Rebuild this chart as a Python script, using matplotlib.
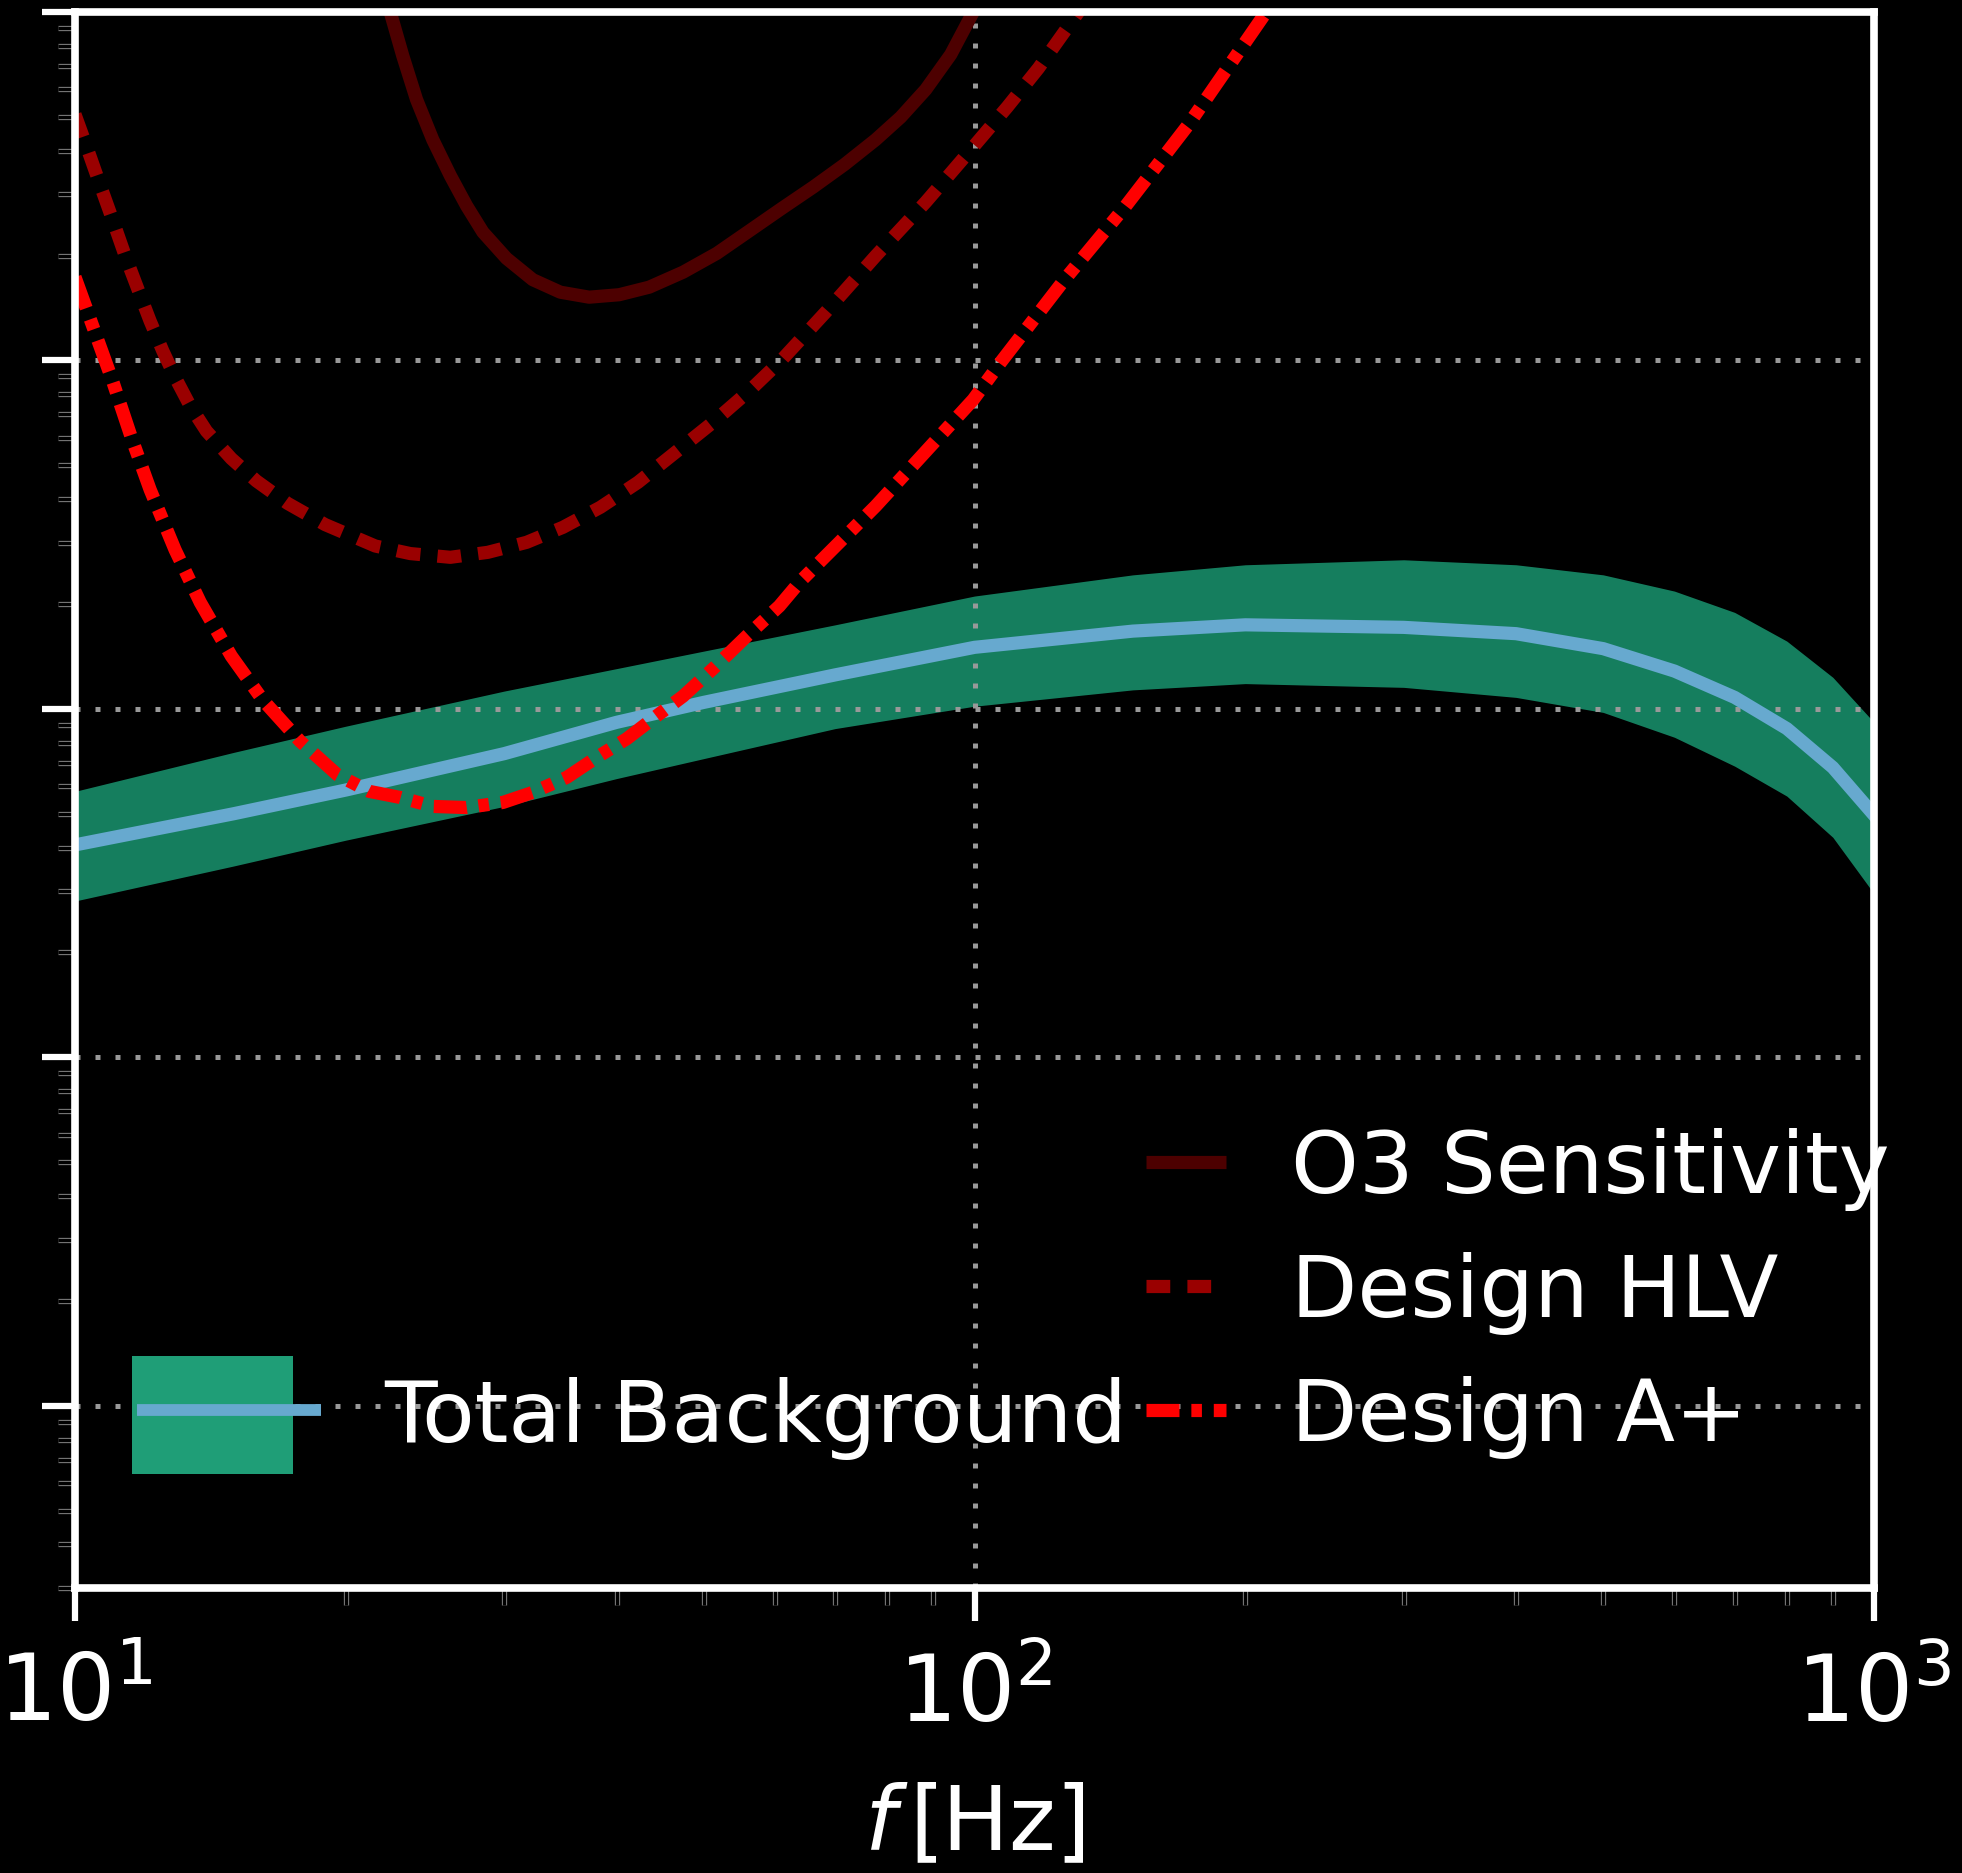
import numpy as np
import matplotlib
matplotlib.use('Agg')
import matplotlib.pyplot as plt
import matplotlib.patches as mpatches
import matplotlib.patheffects as pe
from matplotlib.lines import Line2D
from matplotlib.legend_handler import HandlerPatch, HandlerTuple

# Total background (median + band)
bg_freq = [10, 15, 20, 30, 40, 50, 70, 100, 150, 200, 300, 400, 500, 600, 700, 800, 900, 1000]
bg_median = [4.07e-10, 5.00e-10, 5.85e-10, 7.44e-10, 9.15e-10, 1.044e-9, 1.252e-9, 1.502e-9, 1.672e-9,
             1.743e-9, 1.714e-9, 1.644e-9, 1.489e-9, 1.284e-9, 1.079e-9, 8.78e-10, 6.79e-10, 4.96e-10]
bg_upper = [5.80e-10, 7.50e-10, 8.92e-10, 1.125e-9, 1.305e-9, 1.465e-9, 1.743e-9, 2.108e-9, 2.425e-9,
            2.592e-9, 2.679e-9, 2.592e-9, 2.425e-9, 2.178e-9, 1.892e-9, 1.565e-9, 1.232e-9, 9.15e-10]
bg_lower = [2.81e-10, 3.54e-10, 4.20e-10, 5.25e-10, 6.31e-10, 7.20e-10, 8.78e-10, 1.018e-9, 1.134e-9,
            1.182e-9, 1.153e-9, 1.079e-9, 9.77e-10, 8.29e-10, 6.85e-10, 5.62e-10, 4.28e-10, 2.95e-10]

# O3 sensitivity curve
o3_freq = [22.13, 22.41, 23.14, 23.97, 24.99, 26.14, 27.25, 28.41, 30.18, 32.28, 34.64, 37.29, 40.27,
           43.49, 47.43, 51.70, 56.19, 61.07, 66.17, 71.69, 77.65, 82.78, 88.26, 94.1, 99.68, 103.6]
o3_omega = [1.18e-7, 1.0e-7, 7.49e-8, 5.61e-8, 4.30e-8, 3.39e-8, 2.778e-8, 2.335e-8, 1.963e-8, 1.705e-8,
            1.570e-8, 1.519e-8, 1.544e-8, 1.623e-8, 1.792e-8, 2.029e-8, 2.354e-8, 2.732e-8, 3.144e-8,
            3.65e-8, 4.30e-8, 4.99e-8, 5.99e-8, 7.55e-8, 1.0e-7, 1.18e-7]

# Design HLV curve
hlv_freq = [10.0, 10.33, 10.66, 11.01, 11.36, 11.74, 12.12, 12.52, 12.92, 13.43, 14.0, 14.92, 15.91,
            17.23, 18.97, 21.57, 23.59, 26.14, 28.77, 31.77, 34.87, 38.38, 42.26, 46.52, 51.22, 56.36,
            61.07, 68.32, 77.65, 88.26, 99.68, 108.7, 117.8, 130.5, 136.0]
hlv_omega = [5.08e-8, 4.03e-8, 3.20e-8, 2.536e-8, 2.012e-8, 1.609e-8, 1.298e-8, 1.065e-8, 8.95e-9,
             7.40e-9, 6.27e-9, 5.23e-9, 4.51e-9, 3.89e-9, 3.38e-9, 2.934e-9, 2.791e-9, 2.723e-9,
             2.814e-9, 3.006e-9, 3.32e-9, 3.79e-9, 4.47e-9, 5.45e-9, 6.65e-9, 8.24e-9, 1.005e-8,
             1.376e-8, 1.995e-8, 2.847e-8, 4.10e-8, 5.33e-8, 6.90e-8, 1.0e-7, 1.16e-7]

# Design A+ curve
aplus_freq = [10.0, 10.56, 11.01, 11.55, 12.12, 12.92, 13.78, 14.92, 16.17, 17.79, 19.59, 21.23, 22.99,
              24.99, 27.25, 29.91, 32.28, 35.21, 38.02, 41.06, 43.92, 47.43, 51.22, 55.83, 60.67,
              63.87, 77.65, 99.68, 106.96, 125.6, 147.3, 172.9, 211.0, 219.9]
aplus_omega = [1.734e-8, 1.176e-8, 8.73e-9, 6.02e-9, 4.26e-9, 2.861e-9, 2.022e-9, 1.418e-9, 1.061e-9,
               8.08e-10, 6.46e-10, 5.80e-10, 5.57e-10, 5.25e-10, 5.21e-10, 5.39e-10, 5.76e-10,
               6.36e-10, 7.26e-10, 8.21e-10, 9.38e-10, 1.088e-9, 1.305e-9, 1.618e-9, 1.972e-9,
               2.308e-9, 3.82e-9, 7.72e-9, 9.89e-9, 1.692e-8, 2.778e-8, 4.75e-8, 1.0e-7, 1.16e-7]

x_ticks = [10, 100, 1000]
x_ticklabels = [r'$10^{1}$', r'$10^{2}$', r'$10^{3}$']

FS = 62
plt.rcParams.update({
    'font.family': ['DejaVu Sans'],
    'mathtext.fontset': 'dejavusans',
    'figure.facecolor': 'black',
    'axes.facecolor': 'black',
    'text.color': 'white',
    'axes.labelcolor': 'white',
})

fig = plt.figure(figsize=(19.62, 18.74), dpi=100)
ax = fig.add_axes([75 / 1962, (1874 - 1589) / 1874, 1799 / 1962, 1576 / 1874])

ax.fill_between(bg_freq, bg_lower, bg_upper, color='#1b9e77', alpha=0.8, lw=0, zorder=1)
ax.plot(bg_freq, bg_median, color='#67a9cf', lw=9.5, zorder=2)

ax.plot(o3_freq, o3_omega, color='#4d0000', lw=9.5, solid_capstyle='butt', label='O3 Sensitivity')
ax.plot(hlv_freq, hlv_omega, color='#9a0000', lw=9.5, ls=(0, (1.8, 1.3)), dash_capstyle='butt',
        label='Design HLV')
ax.plot(aplus_freq, aplus_omega, color='#ff0000', lw=9.5, ls=(0, (2.5, 0.9, 0.8, 0.9)),
        dash_capstyle='butt', label='Design A+')

ax.set_xscale('log')
ax.set_yscale('log')
ax.set_xlim(10, 1000)
ax.set_ylim(3e-12, 1e-7)
ax.set_xticks(x_ticks)
ax.set_xticklabels(x_ticklabels)

ax.set_axisbelow('line')
ax.grid(True, which='major', color='#999999', ls=(0, (1, 3)), lw=3.6)
ax.grid(False, which='minor')

for s in ax.spines.values():
    s.set_color('white')
    s.set_linewidth(5.5)

ax.tick_params(which='major', direction='out', length=24, width=4.5, color='white',
               labelsize=66, labelcolor='white', pad=20, top=False, right=False)
ax.tick_params(which='minor', direction='out', length=12, width=2.2, color='black',
               top=False, right=False)
ax.tick_params(axis='y', which='both', labelleft=False)

# minor ticks look like hollow boxes
for t in ax.xaxis.get_minor_ticks() + ax.yaxis.get_minor_ticks():
    t.tick1line.set_path_effects([pe.Stroke(linewidth=3.8, foreground='#777777'), pe.Normal()])

# kept a little higher than in the reference so the bracket is not cut by the edge
ax.set_xlabel(r'$f\,$[Hz]', fontsize=64, labelpad=30)


# legend patch drawn narrower and taller than the default box
def band_patch(legend, orig_handle, xdescent, ydescent, width, height, fontsize):
    h = 85.0
    return mpatches.Rectangle((-xdescent - 3.6, -ydescent + height / 2 - h / 2 - 3.6), width * 0.875, h)


band_proxy = mpatches.Patch(facecolor='#1f9e77', edgecolor='none')
med_proxy = Line2D([], [], color='#67a9cf', lw=8.5, solid_capstyle='butt')
leg1 = ax.legend([(band_proxy, med_proxy)], ['Total Background'],
                 handler_map={tuple: HandlerTuple(ndivide=1),
                              band_proxy: HandlerPatch(patch_func=band_patch)},
                 loc='center left', bbox_to_anchor=(0.0344, 0.1085), frameon=False,
                 fontsize=FS, handlelength=2.14, handletextpad=0.73, borderpad=0,
                 borderaxespad=0)
ax.add_artist(leg1)

ax.legend(loc='center left', bbox_to_anchor=(0.5953, 0.1875), frameon=False,
          fontsize=FS, handlelength=0.93, handletextpad=0.76, borderpad=0,
          borderaxespad=0, labelspacing=0.48)

fig.savefig('out.png', dpi=100, facecolor='black')
